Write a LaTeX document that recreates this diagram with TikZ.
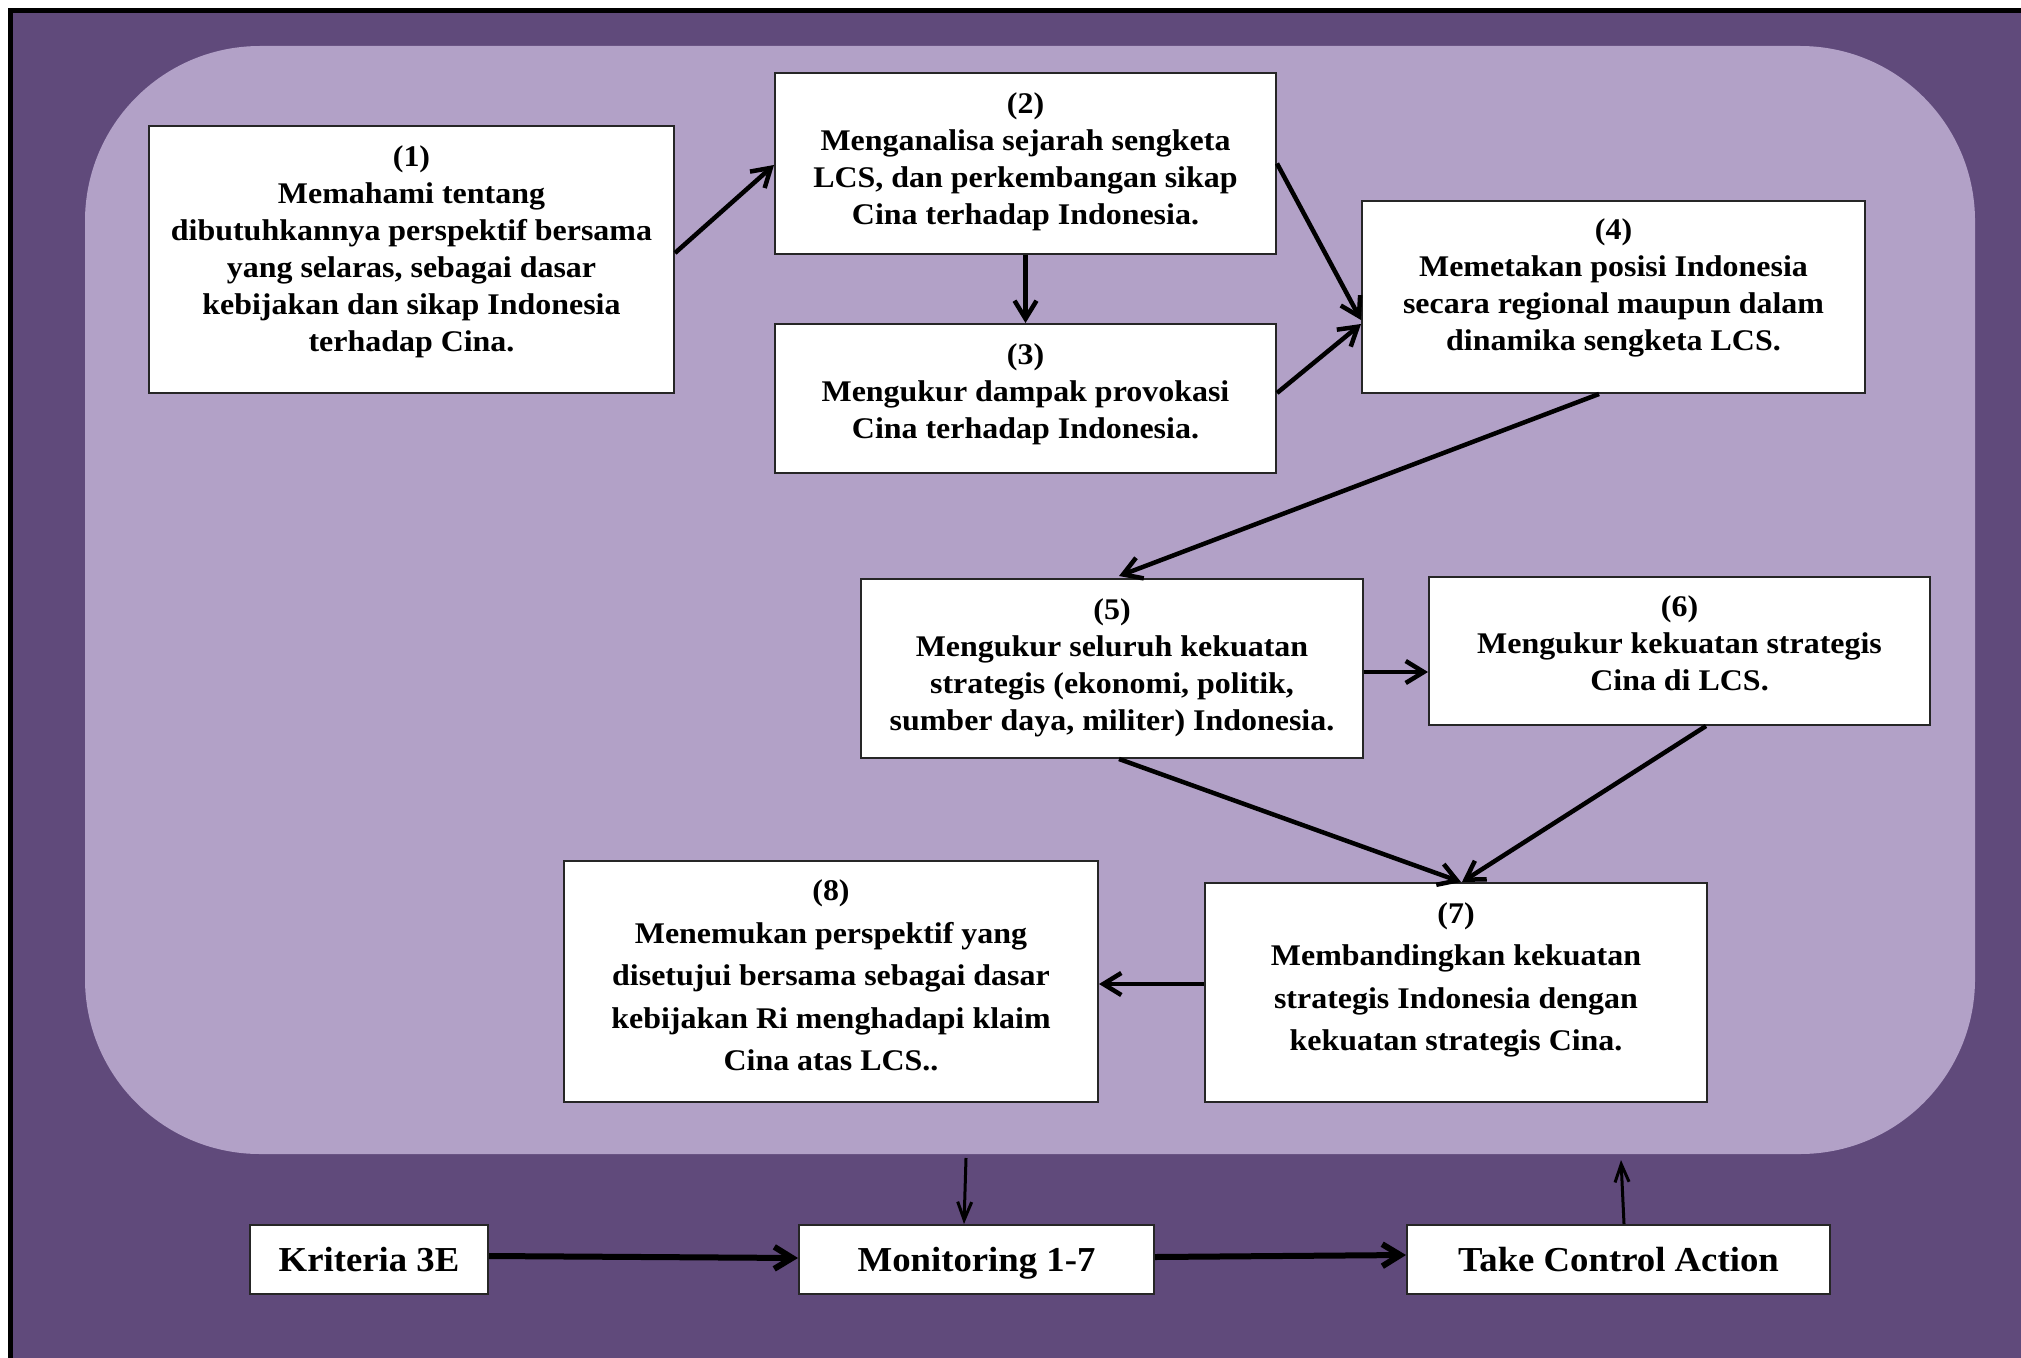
\documentclass[tikz,border=0pt]{standalone}
\usepackage{fontspec}
\usetikzlibrary{arrows.meta,calc}
\newfontfamily\bxf[FakeStretch=1.065]{Liberation Serif}
\newfontfamily\btf[FakeStretch=1.05]{Liberation Serif}
\definecolor{darkpurple}{HTML}{604A7B}
\definecolor{lightpurple}{HTML}{B2A1C7}
\tikzset{
  pbox/.style={draw=black!85, line width=1pt, fill=white, inner sep=0pt},
  ptext/.style={align=center, inner sep=0pt, font={\bxf\bfseries\fontsize{15pt}{18.5pt}\selectfont}},
  ptextw/.style={align=center, inner sep=0pt, font={\bxf\bfseries\fontsize{15pt}{21.25pt}\selectfont}},
  btext/.style={pbox, minimum height=34.5pt, text depth=0pt, font={\btf\bfseries\fontsize{17.5pt}{21pt}\selectfont}},
  arr/.style={line width=2.25pt, line join=round, -{Straight Barb[length=9pt,width=11pt]}},
  arrthick/.style={line width=3pt, line join=round, -{Straight Barb[length=9pt,width=11pt]}},
  arrthin/.style={line width=1.5pt, line join=round, -{Straight Barb[length=9pt,width=7pt]}},
}
\begin{document}
\begin{tikzpicture}[x=0.5pt,y=-0.5pt]
\useasboundingbox (0,0) rectangle (2021,1358);
\clip (0,0) rectangle (2021,1358);
\fill[white] (0,0) rectangle (2021,1358);
\draw[line width=2.5pt, fill=darkpurple] (10.5,10.5) rectangle (2060,1400);
\node[fill=lightpurple, inner sep=0pt, rounded corners=87.5pt, minimum width=945pt, minimum height=554pt] (panel) at (1030,600) {};
% boxes
\node[pbox, minimum width=262.5pt, minimum height=133.5pt] (b1) at (411.5,259.5) {};
\node[pbox, minimum width=250.5pt, minimum height=90.5pt] (b2) at (1025.5,163.5) {};
\node[pbox, minimum width=250.5pt, minimum height=74.5pt] (b3) at (1025.5,398.5) {};
\node[pbox, minimum width=251.5pt, minimum height=96pt] (b4) at (1613.5,297) {};
\node[pbox, minimum width=251pt, minimum height=89.5pt] (b5) at (1112,668.5) {};
\node[pbox, minimum width=250.5pt, minimum height=74pt] (b6) at (1679.5,651) {};
\node[pbox, minimum width=251pt, minimum height=109.5pt] (b7) at (1456,992.5) {};
\node[pbox, minimum width=267pt, minimum height=120.5pt] (b8) at (831,981.5) {};
% texts
\node[ptext] (t1) at (411.5,251.5) {(1)\\Memahami tentang\\dibutuhkannya perspektif bersama\\yang selaras, sebagai dasar\\kebijakan dan sikap Indonesia\\terhadap Cina.};
\node[ptext] (t2) at (1025.5,161.5) {(2)\\Menganalisa sejarah sengketa\\LCS, dan perkembangan sikap\\Cina terhadap Indonesia.};
\node[ptext] (t3) at (1025.5,394) {(3)\\Mengukur dampak provokasi\\Cina terhadap Indonesia.};
\node[ptext] (t4) at (1613.5,288) {(4)\\Memetakan posisi Indonesia\\secara regional maupun dalam\\dinamika sengketa LCS.};
\node[ptext] (t5) at (1112,667.5) {(5)\\Mengukur seluruh kekuatan\\strategis (ekonomi, politik,\\sumber daya, militer) Indonesia.};
\node[ptext] (t6) at (1679.5,643.5) {(6)\\Mengukur kekuatan strategis\\Cina di LCS.};
\node[ptextw] (t7) at (1456,980) {(7)\\Membandingkan kekuatan\\strategis Indonesia dengan\\kekuatan strategis Cina.};
\node[ptextw] (t8) at (831,975.5) {(8)\\Menemukan perspektif yang\\disetujui bersama sebagai dasar\\kebijakan Ri menghadapi klaim\\Cina atas LCS..};
% bottom boxes
\node[btext, minimum width=119pt] (k) at (369,1259.5) {Kriteria 3E};
\node[btext, minimum width=177.5pt] (m) at (976.5,1259.5) {Monitoring 1-7};
\node[btext, minimum width=211.5pt] (t) at (1618.5,1259.5) {Take Control Action};
\coordinate (pout) at (966,1158);
\coordinate (pin) at (1621,1160);
% arrows
\draw[arr] ($(b1.east)+(0,-6.5)$) -- ($(b2.west)+(0,1.5)$);
\draw[arr] (b2.south) -- (b3.north);
\draw[arr] (b2.east) -- ($(b4.west)+(0,23)$);
\draw[arr] ($(b3.east)+(0,-5.5)$) -- ($(b4.west)+(0,27)$);
\draw[arr] ($(b4.south)+(-14.5,0)$) -- ($(b5.north)+(7,-2)$);
\draw[arr] ($(b5.east)+(0,3.5)$) -- ($(b6.west)+(0,21)$);
\draw[arr] ($(b5.south)+(7,0)$) -- ($(b7.north)+(5,0)$);
\draw[arr] ($(b6.south)+(26.5,0)$) -- ($(b7.north)+(6,0)$);
\draw[arr] ($(b7.west)+(0,-8.5)$) -- ($(b8.east)+(0,2.5)$);
\draw[arrthin] (pout) -- ($(m.north)+(-12.5,0)$);
\draw[arrthin] ($(t.north)+(5.5,0)$) -- (pin);
\draw[arrthick] ($(k.east)+(0,-3.5)$) -- ($(m.west)+(0,-1.5)$);
\draw[arrthick] ($(m.east)+(0,-2.5)$) -- ($(t.west)+(0,-4.5)$);
\end{tikzpicture}
\end{document}
